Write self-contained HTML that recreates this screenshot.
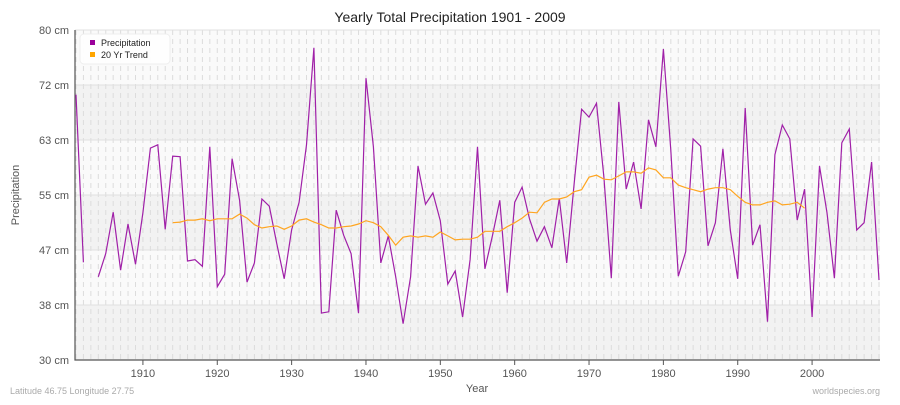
<!DOCTYPE html>
<html><head><meta charset="utf-8"><style>
body{margin:0;background:#fff;font-family:"Liberation Sans",sans-serif}
svg text{font-family:"Liberation Sans",sans-serif}
</style></head><body>
<svg id="chart" width="900" height="400" xmlns="http://www.w3.org/2000/svg">
<rect width="900" height="400" fill="#fff"/>
<text x="450" y="22" text-anchor="middle" font-size="14" fill="#222">Yearly Total Precipitation 1901 - 2009</text>
<g id="plot"></g>
<text transform="translate(19,195) rotate(-90)" text-anchor="middle" font-size="11" fill="#555">Precipitation</text>
<text x="477" y="392" text-anchor="middle" font-size="11" fill="#555">Year</text>
<text x="10" y="394" font-size="9" fill="#aaa">Latitude 46.75 Longitude 27.75</text>
<text x="880" y="394" text-anchor="end" font-size="9" fill="#aaa">worldspecies.org</text>
<g>
<rect x="80" y="34" width="90" height="30" rx="4" fill="#fff" stroke="#eee" opacity="0.95"/>
<rect x="90" y="40" width="5" height="5" fill="#990099"/>
<text x="101" y="46" font-size="9" fill="#222">Precipitation</text>
<rect x="90" y="52" width="5" height="5" fill="#ffa500"/>
<text x="101" y="58" font-size="9" fill="#222">20 Yr Trend</text>
</g>
</svg>
<script>
const years=[];for(let y=1901;y<=2009;y++)years.push(y);
const precip=[70.2,44.8,null,42.6,46.1,52.4,43.6,50.6,44.5,52.3,62.1,62.6,49.8,60.9,60.8,45.0,45.2,44.2,62.3,41.1,43.0,60.5,54.2,41.8,44.7,54.4,53.3,47.6,42.3,49.7,53.9,62.6,77.3,37.1,37.3,52.7,48.9,46.1,37.1,72.7,62.3,44.7,48.8,42.6,35.5,42.6,59.4,53.6,55.3,51.1,41.5,43.5,36.5,45.2,62.3,43.8,48.8,54.2,40.2,53.9,56.2,51.4,48.0,50.2,47.0,54.5,44.7,56.8,68.0,66.8,68.9,57.7,42.4,69.1,55.9,60.0,52.9,66.4,62.3,77.1,61.8,42.7,46.4,63.5,62.4,47.3,50.8,62.0,49.7,42.3,68.2,47.4,50.5,35.8,61.1,65.6,63.5,51.2,55.9,36.5,59.4,52.3,42.4,62.9,65.0,49.7,50.8,60.0,42.1];
const trendStart=1914;
const trend=[50.8,50.9,51.2,51.2,51.4,51.1,51.4,51.4,51.4,52.1,51.5,50.5,50.0,50.2,50.3,49.8,50.3,51.2,51.4,50.9,50.5,50.0,50.0,50.2,50.3,50.6,51.1,50.8,50.2,48.9,47.4,48.6,48.8,48.6,48.8,48.6,49.4,48.8,48.2,48.3,48.3,48.6,49.5,49.5,49.5,50.2,50.8,51.5,52.4,52.3,53.9,54.4,54.4,54.7,55.5,55.8,57.7,58.0,57.4,57.3,57.9,58.5,58.5,58.3,59.1,58.8,57.6,57.6,56.5,56.1,55.8,55.5,55.9,56.1,56.1,55.8,54.8,53.9,53.5,53.5,53.9,54.1,53.5,53.6,53.9,53.0];
const yTickVals=[30,38.333,46.667,55,63.333,71.667,80];
const yTickLabels=["30 cm","38 cm","47 cm","55 cm","63 cm","72 cm","80 cm"];
const xTickVals=[1910,1920,1930,1940,1950,1960,1970,1980,1990,2000];
const NS="http://www.w3.org/2000/svg";
const L=75,R=880,T=30,B=360;
const xs=y=>76+(y-1901)*(879-76)/108;
const ys=v=>B-(v-30)/50*(B-T);
const g=document.getElementById('plot');
function mk(t,a){const e=document.createElementNS(NS,t);for(const k in a)e.setAttribute(k,a[k]);g.appendChild(e);return e;}
let e=mk('rect',{x:L,y:T,width:R-L,height:B-T,fill:'#fafafa'});


for(let i=0;i<6;i+=2){
 e=mk('rect',{x:L,y:ys(yTickVals[i+1]),width:R-L,height:ys(yTickVals[i])-ys(yTickVals[i+1]),fill:'#f2f2f2'});
 
 
}
years.forEach(y=>{
 e=mk('line',{x1:xs(y),x2:xs(y),y1:T,y2:B,stroke:'#dcdcdc','stroke-width':1,'stroke-dasharray':'5,4'});
 
 
});
yTickVals.forEach((v,i)=>{
 e=mk('line',{x1:L,x2:R,y1:ys(v),y2:ys(v),stroke:'#e0e0e0'});
 
 
 e=mk('text',{x:L-6,y:ys(v)+4,'text-anchor':'end','font-size':11,fill:'#555'});
 e.textContent=yTickLabels[i];
 
 
});
xTickVals.forEach(v=>{
 e=mk('line',{x1:xs(v),x2:xs(v),y1:B,y2:B+5,stroke:'#555'});
 
 
 e=mk('text',{x:xs(v),y:B+17,'text-anchor':'middle','font-size':11,fill:'#555'});
 e.textContent=v;
 
 
});
e=mk('path',{d:`M${L},${T}V${B}H${R}`,stroke:'#555',fill:'none','stroke-width':1.2});


let d='',pen=false;
precip.forEach((v,i)=>{if(v==null){pen=false;return;}d+=(pen?'L':'M')+xs(years[i]).toFixed(1)+','+ys(v).toFixed(1);pen=true;});
e=mk('path',{d:d,stroke:'#a020a8',fill:'none','stroke-width':1.2});


d='';trend.forEach((v,i)=>{d+=(i?'L':'M')+xs(trendStart+i).toFixed(1)+','+ys(v).toFixed(1);});
e=mk('path',{d:d,stroke:'#ffa520',fill:'none','stroke-width':1.2});


</script>
</body></html>
